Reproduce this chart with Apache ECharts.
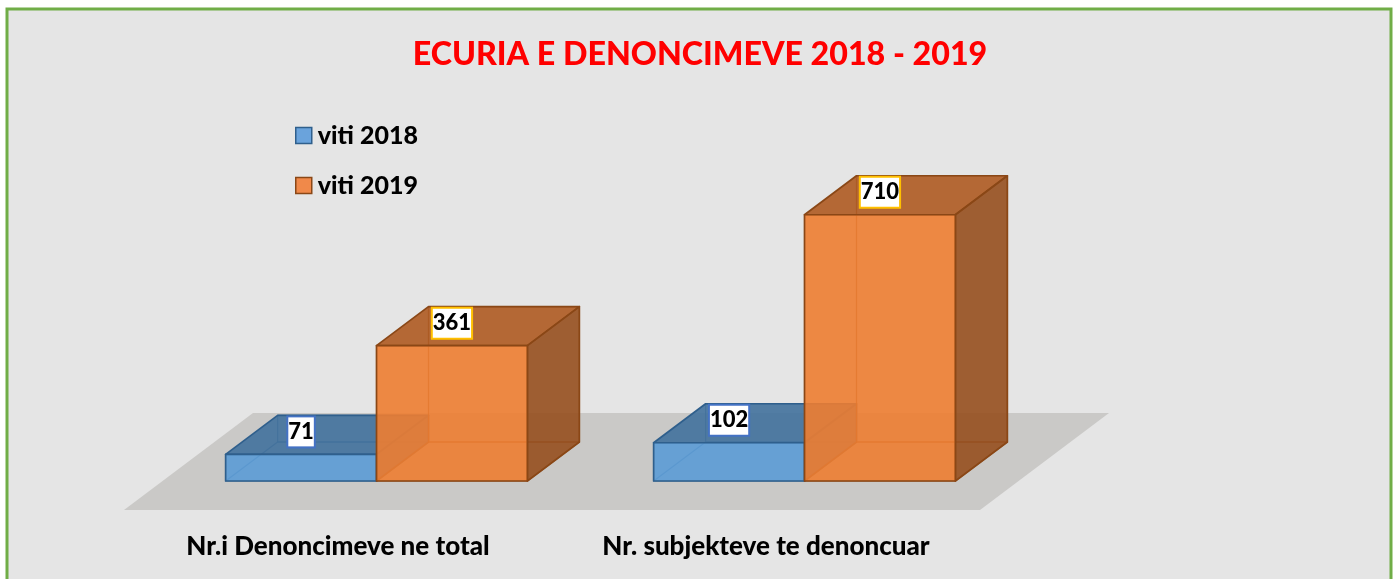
<!DOCTYPE html>
<html>
<head>
<meta charset="utf-8">
<style>html,body{margin:0;padding:0;background:#fff}#c{width:1398px;height:579px}</style>
<script src="https://cdn.jsdelivr.net/npm/echarts@6/dist/echarts.min.js"></script>
</head>
<body>
<div id="c"></div>
<script>
const titleText = 'ECURIA E DENONCIMEVE 2018 - 2019';
const categories = ['Nr.i Denoncimeve ne total', 'Nr. subjekteve te denoncuar'];
const values2018 = [71, 102];
const values2019 = [361, 710];
const seriesNames = ['viti 2018', 'viti 2019'];
const FONT = 'Lato, Carlito, "Open Sans", sans-serif';

const themes = [
  {front:'rgba(91,155,213,0.9)', top:'rgba(65,113,156,0.9)', right:'rgba(65,113,156,0.9)', edge:'#2f5f8c', back:'rgba(47,95,140,0.75)', box:'#4472c4'},
  {front:'rgba(237,125,49,0.9)', top:'rgba(174,90,33,0.9)', right:'rgba(150,79,30,0.9)', edge:'#8a4716', back:'rgba(138,71,22,0.8)', box:'#ffc000'}
];
const BAR_FRACTION = 0.3525, INSET = [38.5, -29], DEPTH = [52, -39], FLOOR_DEPTH = [129, -97];

function poly(points, fill, stroke, lw) {
  return {type:'polygon', shape:{points}, style:{fill, stroke, lineWidth:lw, lineJoin:'round'}};
}
function barRenderer(idx) {
  return function (params, api) {
    const t = themes[idx];
    const base = api.coord([api.value(0), 0]);
    const head = api.coord([api.value(0), api.value(1)]);
    const w = api.size([1, 0])[0] * BAR_FRACTION;
    const x0 = base[0] + INSET[0] + (idx === 0 ? -w : 0), x1 = x0 + w;
    const yb = base[1] + INSET[1], yt = head[1] + INSET[1];
    const dx = DEPTH[0], dy = DEPTH[1];
    return {type:'group', children:[
      poly([[x0+dx,yb+dy],[x1+dx,yb+dy],[x1+dx,yt+dy],[x0+dx,yt+dy]], 'rgba(0,0,0,0)', t.back, 1.2),
      poly([[x0,yb],[x1,yb],[x1+dx,yb+dy],[x0+dx,yb+dy]], 'rgba(0,0,0,0)', t.back, 1.2),
      poly([[x0,yt],[x1,yt],[x1+dx,yt+dy],[x0+dx,yt+dy]], t.top, t.edge, 1.7),
      poly([[x1,yb],[x1+dx,yb+dy],[x1+dx,yt+dy],[x1,yt]], t.right, t.edge, 1.7),
      poly([[x0,yb],[x1,yb],[x1,yt],[x0,yt]], t.front, t.edge, 1.7),
      {type:'text', z2:100, style:{
        text:String(api.value(1)), x:(x0+x1)/2, y:yt-22.5, align:'center', verticalAlign:'middle',
        fill:'#000', font:'900 22px '+FONT, backgroundColor:'#fff',
        borderColor:t.box, borderWidth:2, padding:[4,0,3,0]
      }}
    ]};
  };
}
function floorRenderer(params) {
  const c = params.coordSys, y = c.y + c.height;
  return poly([[c.x,y],[c.x+c.width,y],[c.x+c.width+FLOOR_DEPTH[0],y+FLOOR_DEPTH[1]],[c.x+FLOOR_DEPTH[0],y+FLOOR_DEPTH[1]]], '#cac9c7', null, 0);
}

const chart = echarts.init(document.getElementById('c'), null, {renderer:'canvas'});
chart.setOption({
  animation:false,
  backgroundColor:'#fff',
  graphic:[{type:'rect', z:-1, silent:true, shape:{x:7,y:9,width:1384,height:640},
    style:{fill:'#e5e5e5', stroke:'#70ad47', lineWidth:3}}],
  title:{text:titleText, left:695, top:34, textAlign:'center',
    textStyle:{color:'#ff0000', fontFamily:FONT, fontWeight:900, fontSize:32.2}},
  legend:{orient:'vertical', left:290, top:118, itemWidth:16, itemHeight:16, itemGap:25, icon:'rect',
    textStyle:{color:'#000', fontFamily:FONT, fontWeight:900, fontSize:25, padding:[0,0,0,1]},
    data:[
      {name:seriesNames[0], itemStyle:{color:'#6aa3dc', borderColor:'#2f5f8c', borderWidth:1.5}},
      {name:seriesNames[1], itemStyle:{color:'#f0894a', borderColor:'#8a4716', borderWidth:1.5}}
    ]},
  grid:{left:124, width:856, top:210, height:300},
  xAxis:{type:'category', data:categories, axisLine:{show:false}, axisTick:{show:false}, splitLine:{show:false},
    axisLabel:{interval:0, margin:24, color:'#000', fontFamily:FONT, fontWeight:900, fontSize:26}},
  yAxis:{type:'value', min:0, max:800, show:false, splitLine:{show:false}},
  series:[
    {type:'custom', name:'floor', z:1, silent:true, renderItem:floorRenderer, data:[[0,0]], encode:{x:0,y:1}},
    {type:'custom', name:seriesNames[0], z:2, renderItem:barRenderer(0), itemStyle:{color:'#5b9bd5'},
      data:values2018.map((v,i)=>[i,v]), encode:{x:0,y:1}},
    {type:'custom', name:seriesNames[1], z:3, renderItem:barRenderer(1), itemStyle:{color:'#ed7d31'},
      data:values2019.map((v,i)=>[i,v]), encode:{x:0,y:1}}
  ]
});
</script>
</body>
</html>
